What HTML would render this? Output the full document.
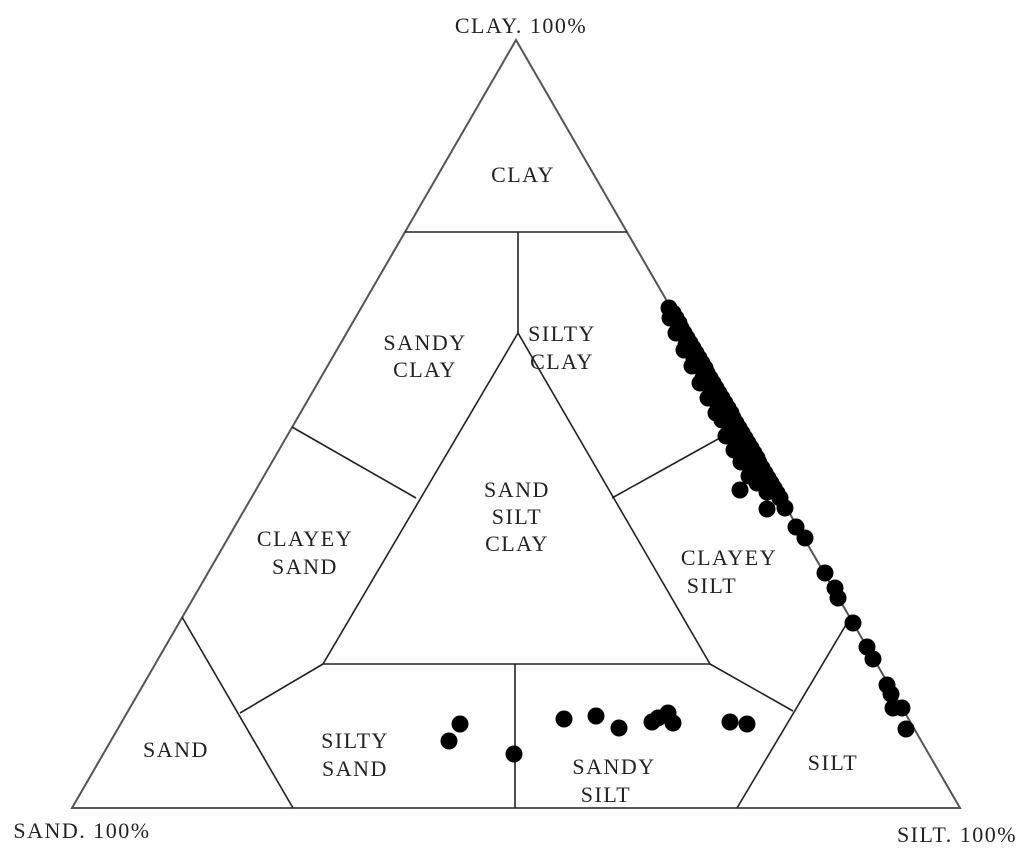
<!DOCTYPE html>
<html><head><meta charset="utf-8"><style>
html,body{margin:0;padding:0;background:#fff;}
svg{display:block;}
text{font-family:"Liberation Serif",serif;font-size:22px;fill:#222;letter-spacing:1.5px;text-anchor:middle;}
</style></head><body>
<svg width="1024" height="863" viewBox="0 0 1024 863" xmlns="http://www.w3.org/2000/svg">
<g fill="none" stroke="#555" stroke-width="2">
<polygon points="516,40 72,808 960,808"/>
</g>
<g fill="none" stroke="#222" stroke-width="1.6">
<line x1="405" y1="232" x2="627" y2="232"/>
<line x1="518" y1="232" x2="518" y2="333"/>
<polygon points="518,333 323,664 710,664"/>
<line x1="416" y1="498" x2="292" y2="427"/>
<line x1="612" y1="498" x2="745" y2="424"/>
<line x1="182" y1="617" x2="293" y2="808"/>
<line x1="323" y1="664" x2="240" y2="713"/>
<line x1="710" y1="664" x2="793" y2="711"/>
<line x1="850" y1="618" x2="737" y2="808"/>
<line x1="515" y1="664" x2="515" y2="808"/>
</g>
<text x="523" y="182">CLAY</text>
<text x="425" y="350">SANDY</text><text x="425" y="377">CLAY</text>
<text x="562" y="341">SILTY</text><text x="562" y="369">CLAY</text>
<text x="517" y="497">SAND</text><text x="517" y="524">SILT</text><text x="517" y="551">CLAY</text>
<text x="305" y="546">CLAYEY</text><text x="305" y="574">SAND</text>
<text x="729" y="565">CLAYEY</text><text x="712" y="593">SILT</text>
<text x="176" y="757">SAND</text>
<text x="355" y="748">SILTY</text><text x="355" y="776">SAND</text>
<text x="614" y="774">SANDY</text><text x="606" y="802">SILT</text>
<text x="833" y="770">SILT</text>
<text x="521" y="33">CLAY. 100%</text>
<text x="82" y="838">SAND. 100%</text>
<text x="957" y="842">SILT. 100%</text>
<g fill="#000">
<circle cx="669" cy="308" r="8.5"/><circle cx="673" cy="313" r="8.5"/><circle cx="676" cy="318" r="8.5"/><circle cx="679" cy="323" r="8.5"/><circle cx="681" cy="328" r="8.5"/><circle cx="684" cy="333" r="8.5"/><circle cx="687" cy="338" r="8.5"/><circle cx="690" cy="343" r="8.5"/><circle cx="693" cy="348" r="8.5"/><circle cx="696" cy="353" r="8.5"/><circle cx="699" cy="358" r="8.5"/><circle cx="702" cy="363" r="8.5"/><circle cx="705" cy="368" r="8.5"/><circle cx="707" cy="373" r="8.5"/><circle cx="710" cy="378" r="8.5"/><circle cx="713" cy="383" r="8.5"/><circle cx="716" cy="388" r="8.5"/><circle cx="719" cy="393" r="8.5"/><circle cx="722" cy="398" r="8.5"/><circle cx="725" cy="403" r="8.5"/><circle cx="728" cy="408" r="8.5"/><circle cx="731" cy="413" r="8.5"/><circle cx="733" cy="418" r="8.5"/><circle cx="736" cy="423" r="8.5"/><circle cx="739" cy="428" r="8.5"/><circle cx="742" cy="433" r="8.5"/><circle cx="745" cy="438" r="8.5"/><circle cx="748" cy="443" r="8.5"/><circle cx="751" cy="448" r="8.5"/><circle cx="754" cy="453" r="8.5"/><circle cx="757" cy="458" r="8.5"/><circle cx="759" cy="463" r="8.5"/><circle cx="762" cy="468" r="8.5"/><circle cx="765" cy="473" r="8.5"/><circle cx="768" cy="478" r="8.5"/><circle cx="771" cy="483" r="8.5"/><circle cx="774" cy="488" r="8.5"/><circle cx="777" cy="493" r="8.5"/><circle cx="780" cy="498" r="8.5"/>
<circle cx="678" cy="330" r="8.5"/><circle cx="686" cy="345" r="8.5"/><circle cx="694" cy="360" r="8.5"/><circle cx="703" cy="378" r="8.5"/><circle cx="711" cy="392" r="8.5"/><circle cx="718" cy="405" r="8.5"/><circle cx="722" cy="420" r="8.5"/><circle cx="731" cy="428" r="8.5"/><circle cx="737" cy="442" r="8.5"/><circle cx="745" cy="456" r="8.5"/><circle cx="752" cy="468" r="8.5"/><circle cx="760" cy="482" r="8.5"/><circle cx="767" cy="492" r="8.5"/>
<circle cx="670" cy="318" r="8.5"/><circle cx="676" cy="333" r="8.5"/><circle cx="684" cy="350" r="8.5"/><circle cx="692" cy="366" r="8.5"/><circle cx="700" cy="383" r="8.5"/><circle cx="708" cy="398" r="8.5"/><circle cx="716" cy="413" r="8.5"/><circle cx="726" cy="436" r="8.5"/><circle cx="734" cy="450" r="8.5"/><circle cx="741" cy="462" r="8.5"/><circle cx="749" cy="476" r="8.5"/><circle cx="757" cy="483" r="8.5"/>
<circle cx="740" cy="490" r="8.5"/><circle cx="767" cy="509" r="8.5"/><circle cx="785" cy="508" r="8.5"/><circle cx="796" cy="527" r="8.5"/><circle cx="805" cy="538" r="8.5"/><circle cx="825" cy="573" r="8.5"/><circle cx="835" cy="588" r="8.5"/><circle cx="838" cy="598" r="8.5"/><circle cx="853" cy="623" r="8.5"/><circle cx="867" cy="647" r="8.5"/><circle cx="873" cy="659" r="8.5"/><circle cx="887" cy="685" r="8.5"/><circle cx="891" cy="694" r="8.5"/><circle cx="893" cy="708" r="8.5"/><circle cx="902" cy="708" r="8.5"/><circle cx="906" cy="729" r="8.5"/>
<circle cx="449" cy="741" r="8.5"/><circle cx="460" cy="724" r="8.5"/><circle cx="514" cy="754" r="8.5"/><circle cx="564" cy="719" r="8.5"/><circle cx="596" cy="716" r="8.5"/><circle cx="619" cy="728" r="8.5"/><circle cx="652" cy="722" r="8.5"/><circle cx="658" cy="718" r="8.5"/><circle cx="668" cy="713" r="8.5"/><circle cx="673" cy="723" r="8.5"/><circle cx="730" cy="722" r="8.5"/><circle cx="747" cy="724" r="8.5"/>
</g>
</svg>
</body></html>
